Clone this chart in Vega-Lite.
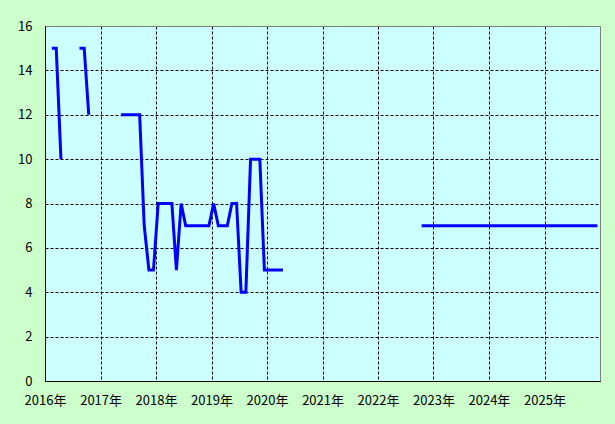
{
  "$schema": "https://vega.github.io/schema/vega-lite/v6.json",
  "width": 555,
  "height": 355,
  "autosize": "none",
  "padding": {"left": 45, "top": 26, "right": 15, "bottom": 43},
  "background": "#ccffcc",
  "config": {
    "view": {"fill": "#ccffff", "stroke": "#808080", "strokeWidth": 1},
    "axis": {"labelFont": "Noto Sans CJK JP", "labelFontSize": 13, "labelColor": "#000000", "ticks": false, "tickSize": 0, "domainColor": "#000000", "domainWidth": 1, "title": null}
  },
  "datasets": {
    "series": [
      {"date": "2016-02-15", "value": 15, "seg": 1},
      {"date": "2016-03-15", "value": 15, "seg": 1},
      {"date": "2016-04-15", "value": 10, "seg": 1},
      {"date": "2016-08-15", "value": 15, "seg": 2},
      {"date": "2016-09-15", "value": 15, "seg": 2},
      {"date": "2016-10-15", "value": 12, "seg": 2},
      {"date": "2017-05-15", "value": 12, "seg": 3},
      {"date": "2017-06-15", "value": 12, "seg": 3},
      {"date": "2017-07-15", "value": 12, "seg": 3},
      {"date": "2017-08-15", "value": 12, "seg": 3},
      {"date": "2017-09-15", "value": 12, "seg": 3},
      {"date": "2017-10-15", "value": 7, "seg": 3},
      {"date": "2017-11-15", "value": 5, "seg": 3},
      {"date": "2017-12-15", "value": 5, "seg": 3},
      {"date": "2018-01-15", "value": 8, "seg": 3},
      {"date": "2018-02-15", "value": 8, "seg": 3},
      {"date": "2018-03-15", "value": 8, "seg": 3},
      {"date": "2018-04-15", "value": 8, "seg": 3},
      {"date": "2018-05-15", "value": 5, "seg": 3},
      {"date": "2018-06-15", "value": 8, "seg": 3},
      {"date": "2018-07-15", "value": 7, "seg": 3},
      {"date": "2018-08-15", "value": 7, "seg": 3},
      {"date": "2018-09-15", "value": 7, "seg": 3},
      {"date": "2018-10-15", "value": 7, "seg": 3},
      {"date": "2018-11-15", "value": 7, "seg": 3},
      {"date": "2018-12-15", "value": 7, "seg": 3},
      {"date": "2019-01-15", "value": 8, "seg": 3},
      {"date": "2019-02-15", "value": 7, "seg": 3},
      {"date": "2019-03-15", "value": 7, "seg": 3},
      {"date": "2019-04-15", "value": 7, "seg": 3},
      {"date": "2019-05-15", "value": 8, "seg": 3},
      {"date": "2019-06-15", "value": 8, "seg": 3},
      {"date": "2019-07-15", "value": 4, "seg": 3},
      {"date": "2019-08-15", "value": 4, "seg": 3},
      {"date": "2019-09-15", "value": 10, "seg": 3},
      {"date": "2019-10-15", "value": 10, "seg": 3},
      {"date": "2019-11-15", "value": 10, "seg": 3},
      {"date": "2019-12-15", "value": 5, "seg": 3},
      {"date": "2020-01-15", "value": 5, "seg": 3},
      {"date": "2020-02-15", "value": 5, "seg": 3},
      {"date": "2020-03-15", "value": 5, "seg": 3},
      {"date": "2020-04-15", "value": 5, "seg": 3},
      {"date": "2022-10-15", "value": 7, "seg": 4},
      {"date": "2022-11-15", "value": 7, "seg": 4},
      {"date": "2022-12-15", "value": 7, "seg": 4},
      {"date": "2023-01-15", "value": 7, "seg": 4},
      {"date": "2023-02-15", "value": 7, "seg": 4},
      {"date": "2023-03-15", "value": 7, "seg": 4},
      {"date": "2023-04-15", "value": 7, "seg": 4},
      {"date": "2023-05-15", "value": 7, "seg": 4},
      {"date": "2023-06-15", "value": 7, "seg": 4},
      {"date": "2023-07-15", "value": 7, "seg": 4},
      {"date": "2023-08-15", "value": 7, "seg": 4},
      {"date": "2023-09-15", "value": 7, "seg": 4},
      {"date": "2023-10-15", "value": 7, "seg": 4},
      {"date": "2023-11-15", "value": 7, "seg": 4},
      {"date": "2023-12-15", "value": 7, "seg": 4},
      {"date": "2024-01-15", "value": 7, "seg": 4},
      {"date": "2024-02-15", "value": 7, "seg": 4},
      {"date": "2024-03-15", "value": 7, "seg": 4},
      {"date": "2024-04-15", "value": 7, "seg": 4},
      {"date": "2024-05-15", "value": 7, "seg": 4},
      {"date": "2024-06-15", "value": 7, "seg": 4},
      {"date": "2024-07-15", "value": 7, "seg": 4},
      {"date": "2024-08-15", "value": 7, "seg": 4},
      {"date": "2024-09-15", "value": 7, "seg": 4},
      {"date": "2024-10-15", "value": 7, "seg": 4},
      {"date": "2024-11-15", "value": 7, "seg": 4},
      {"date": "2024-12-15", "value": 7, "seg": 4},
      {"date": "2025-01-15", "value": 7, "seg": 4},
      {"date": "2025-02-15", "value": 7, "seg": 4},
      {"date": "2025-03-15", "value": 7, "seg": 4},
      {"date": "2025-04-15", "value": 7, "seg": 4},
      {"date": "2025-05-15", "value": 7, "seg": 4},
      {"date": "2025-06-15", "value": 7, "seg": 4},
      {"date": "2025-07-15", "value": 7, "seg": 4},
      {"date": "2025-08-15", "value": 7, "seg": 4},
      {"date": "2025-09-15", "value": 7, "seg": 4},
      {"date": "2025-10-15", "value": 7, "seg": 4},
      {"date": "2025-11-15", "value": 7, "seg": 4},
      {"date": "2025-12-15", "value": 7, "seg": 4}
    ]
  },
  "data": {"name": "series"},
  "mark": {"type": "line", "color": "#0000ff", "strokeWidth": 3, "strokeJoin": "miter", "clip": true},
  "encoding": {
    "x": {
      "field": "date",
      "type": "temporal",
      "scale": {"domain": ["2016-01-01", "2026-01-01"], "nice": false},
      "axis": {
        "format": "%Y年",
        "values": [{"year": 2016}, {"year": 2017}, {"year": 2018}, {"year": 2019}, {"year": 2020}, {"year": 2021}, {"year": 2022}, {"year": 2023}, {"year": 2024}, {"year": 2025}],
        "labelPadding": 13,
        "labelAlign": "center",
        "labelFlush": false,
        "labelOverlap": false,
        "gridColor": "#000000",
        "gridDash": {"condition": {"test": "year(datum.value) <= 2016", "value": []}, "value": [3, 2]}
      }
    },
    "y": {
      "field": "value",
      "type": "quantitative",
      "scale": {"domain": [0, 16], "nice": false},
      "axis": {
        "values": [0, 2, 4, 6, 8, 10, 12, 14, 16],
        "labelPadding": 13,
        "gridColor": {"condition": {"test": "datum.value >= 16", "value": "#808080"}, "value": "#000000"},
        "gridDash": {"condition": {"test": "datum.value >= 16 || datum.value <= 0", "value": []}, "value": [3, 2]}
      }
    },
    "detail": {"field": "seg", "type": "nominal"}
  }
}
